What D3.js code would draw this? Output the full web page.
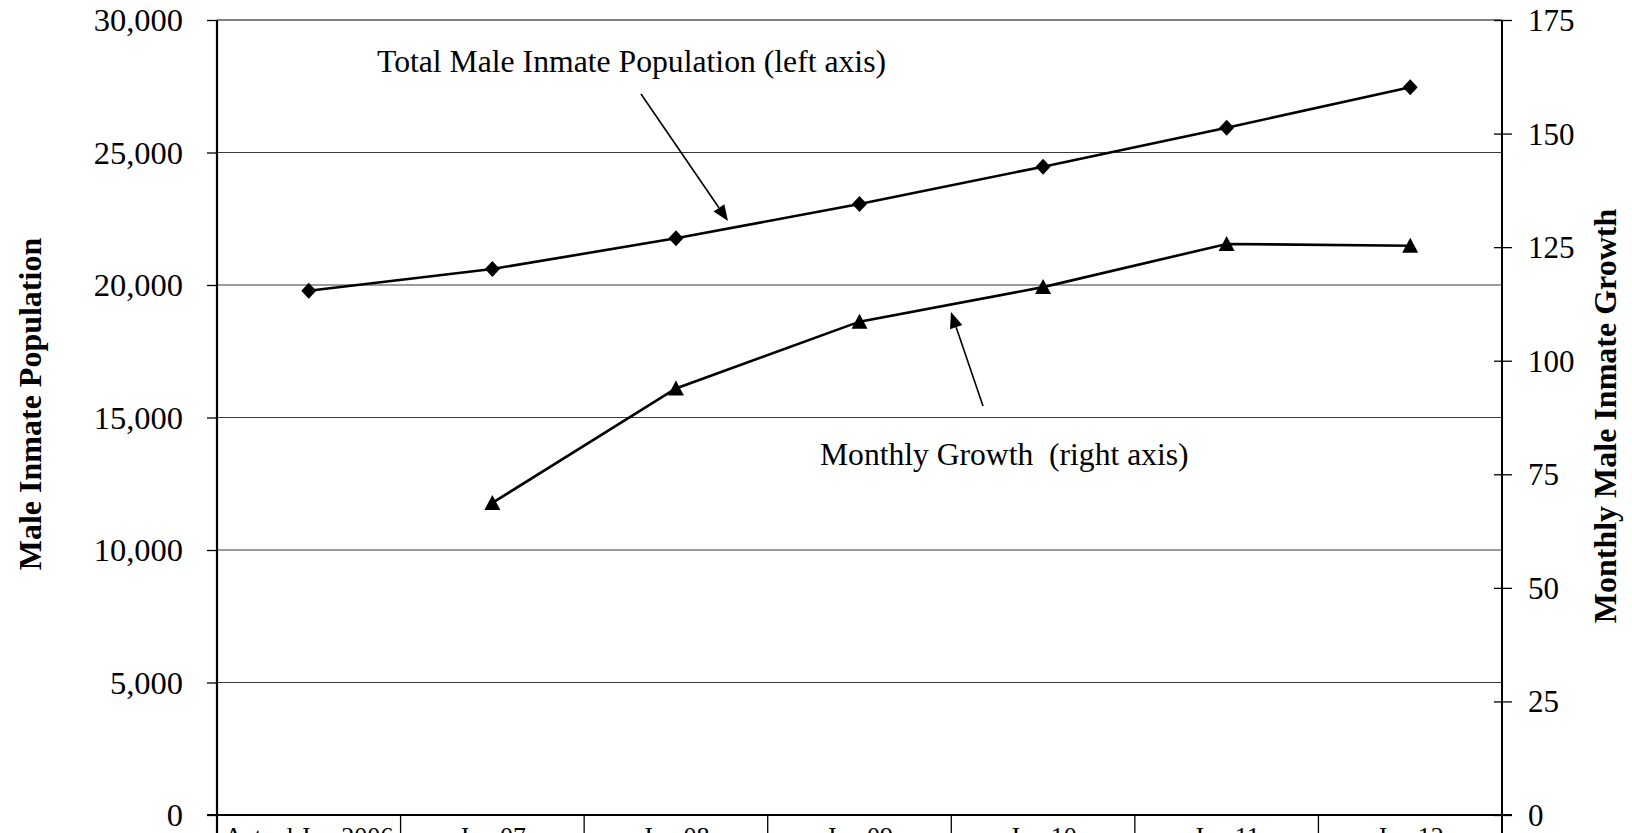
<!DOCTYPE html>
<html>
<head>
<meta charset="utf-8">
<script src="https://cdn.jsdelivr.net/npm/d3@7"></script>
<style>
  html, body { margin: 0; padding: 0; background: #fff; overflow: hidden; }
  svg { display: block; font-family: "Liberation Serif", "Times New Roman", serif; }
</style>
</head>
<body>
<svg id="chart" width="1632" height="833"></svg>
<script>
// Projection periods
const categories = ["Actual Jan 2006", "Jan 07", "Jan 08", "Jan 09", "Jan 10", "Jan 11", "Jan 12"];
// Total male inmate population (left axis)
const population = [19785, 20604, 21762, 23057, 24466, 25936, 27460];
// Monthly male inmate growth (right axis); no value for the base year
const growth = [null, 68.7, 93.9, 108.6, 116.2, 125.7, 125.3];
// Axis ticks
const leftTicks = [0, 5000, 10000, 15000, 20000, 25000, 30000];
const rightTicks = [0, 25, 50, 75, 100, 125, 150, 175];

const svg = d3.select("#chart");
const W = 1632, H = 833;
const plot = { left: 217, right: 1502, top: 20, bottom: 815 };

const x = d3.scaleBand().domain(categories).range([plot.left, plot.right]).padding(0);
const yL = d3.scaleLinear().domain([0, 30000]).range([plot.bottom, plot.top]);
const yR = d3.scaleLinear().domain([0, 175]).range([plot.bottom, plot.top]);
const cx = d => x(d) + x.bandwidth() / 2;

// Horizontal gridlines at the left-axis ticks
svg.append("g").selectAll("line").data(leftTicks.filter(t => t > 0)).join("line")
  .attr("x1", plot.left).attr("x2", plot.right)
  .attr("y1", d => yL(d)).attr("y2", d => yL(d))
  .attr("stroke", d => d === 30000 ? "#808080" : "#3a3a3a")
  .attr("stroke-width", d => d === 30000 ? 2 : 1.2);

// Left axis
const leftAxis = d3.axisLeft(yL).tickValues(leftTicks).tickSize(10).tickPadding(24)
  .tickFormat(d3.format(","));
const gL = svg.append("g").attr("transform", `translate(${plot.left},0)`).call(leftAxis);
gL.select(".domain").remove();
gL.selectAll(".tick line").attr("stroke", "#000").attr("stroke-width", 1.3);
gL.selectAll(".tick text").attr("font-size", 32.5).attr("fill", "#000")
  .attr("font-family", "Liberation Serif").attr("dy", "0.33em");

// Right axis
const rightAxis = d3.axisRight(yR).tickValues(rightTicks).tickSize(10).tickPadding(16);
const gR = svg.append("g").attr("transform", `translate(${plot.right},0)`).call(rightAxis);
gR.select(".domain").remove();
gR.selectAll(".tick line").attr("x1", -8).attr("stroke", "#000").attr("stroke-width", 1.3);
gR.selectAll(".tick text").attr("font-size", 31).attr("fill", "#000")
  .attr("font-family", "Liberation Serif").attr("dy", "0.34em");

// Axis lines, running down through the category table
svg.append("line").attr("x1", plot.left).attr("x2", plot.left)
  .attr("y1", plot.top).attr("y2", H).attr("stroke", "#000").attr("stroke-width", 2.2);
svg.append("line").attr("x1", plot.right).attr("x2", plot.right)
  .attr("y1", plot.top).attr("y2", H).attr("stroke", "#000").attr("stroke-width", 2);
// Baseline
svg.append("line").attr("x1", plot.left - 10).attr("x2", plot.right + 10)
  .attr("y1", plot.bottom).attr("y2", plot.bottom).attr("stroke", "#000").attr("stroke-width", 2);

// Category table: cell dividers and labels
svg.append("g").selectAll("line").data(categories.slice(1)).join("line")
  .attr("x1", d => x(d)).attr("x2", d => x(d))
  .attr("y1", plot.bottom).attr("y2", H)
  .attr("stroke", "#000").attr("stroke-width", 1.3);
svg.append("g").selectAll("text").data(categories).join("text")
  .attr("x", d => cx(d)).attr("y", 845)
  .attr("text-anchor", "middle").attr("font-size", 26).attr("fill", "#000")
  .text(d => d);

// Population line with diamond markers
const popData = categories.map((c, i) => ({ c, v: population[i] }));
svg.append("path").datum(popData)
  .attr("d", d3.line().x(d => cx(d.c)).y(d => yL(d.v)))
  .attr("fill", "none").attr("stroke", "#000").attr("stroke-width", 2.6);
svg.append("g").selectAll("path").data(popData).join("path")
  .attr("transform", d => `translate(${cx(d.c)},${yL(d.v)})`)
  .attr("d", "M0,-8L7.5,0L0,8L-7.5,0Z").attr("fill", "#000");

// Monthly growth line with triangle markers
const growthData = categories.map((c, i) => ({ c, v: growth[i] })).filter(d => d.v != null);
svg.append("path").datum(growthData)
  .attr("d", d3.line().x(d => cx(d.c)).y(d => yR(d.v)))
  .attr("fill", "none").attr("stroke", "#000").attr("stroke-width", 2.6);
svg.append("g").selectAll("path").data(growthData).join("path")
  .attr("transform", d => `translate(${cx(d.c)},${yR(d.v)})`)
  .attr("d", "M0,-8L8,7L-8,7Z").attr("fill", "#000");

// Annotation labels with pointer arrows
function arrow(x1, y1, x2, y2) {
  const ang = Math.atan2(y2 - y1, x2 - x1);
  const len = 16, half = 6.5;
  const bx = x2 - len * Math.cos(ang), by = y2 - len * Math.sin(ang);
  svg.append("line").attr("x1", x1).attr("y1", y1).attr("x2", bx).attr("y2", by)
    .attr("stroke", "#000").attr("stroke-width", 1.6);
  const px = -Math.sin(ang) * half, py = Math.cos(ang) * half;
  svg.append("path")
    .attr("d", `M${x2},${y2}L${bx + px},${by + py}L${bx - px},${by - py}Z`)
    .attr("fill", "#000");
}

svg.append("text").attr("x", 377).attr("y", 72).attr("font-size", 31.7).attr("fill", "#000")
  .text("Total Male Inmate Population (left axis)");
arrow(641, 94, 728, 221);

svg.append("text").attr("x", 820).attr("y", 465).attr("font-size", 31.6).attr("fill", "#000")
  .style("white-space", "pre")
  .text("Monthly Growth  (right axis)");
arrow(983, 406, 951, 312);

// Axis titles
svg.append("text")
  .attr("transform", "translate(41,404) rotate(-90)")
  .attr("text-anchor", "middle").attr("font-size", 32).attr("font-weight", "bold").attr("fill", "#000")
  .text("Male Inmate Population");
svg.append("text")
  .attr("transform", "translate(1616,416) rotate(-90)")
  .attr("text-anchor", "middle").attr("font-size", 32).attr("font-weight", "bold").attr("fill", "#000")
  .text("Monthly Male Inmate Growth");
</script>
</body>
</html>
